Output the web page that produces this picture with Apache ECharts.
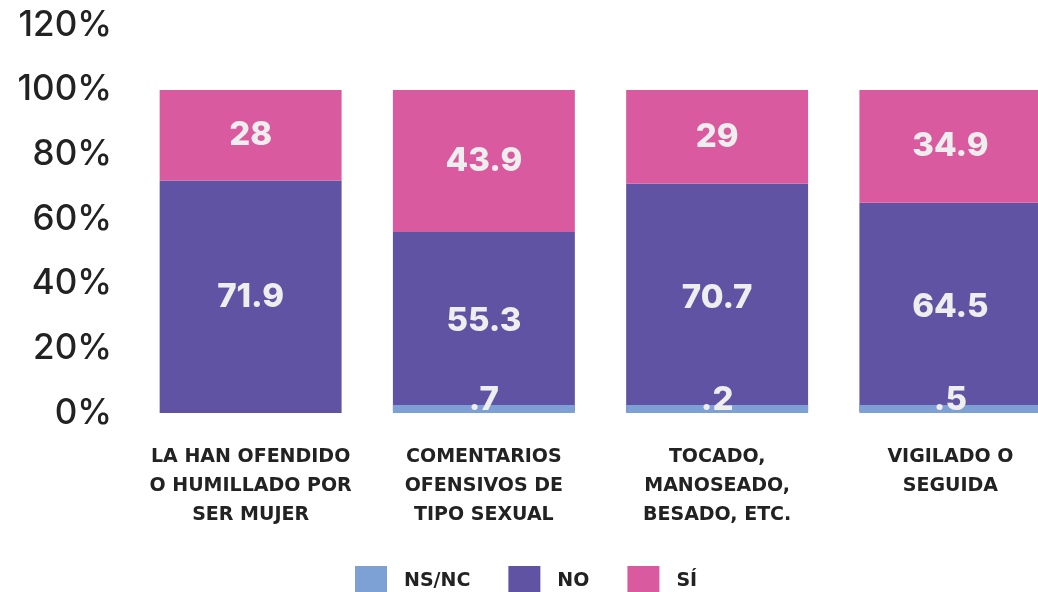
<!DOCTYPE html>
<html>
<head>
<meta charset="utf-8">
<script src="https://cdn.jsdelivr.net/npm/echarts@6/dist/echarts.min.js"></script>
<style>html,body{margin:0;padding:0;background:#fff}#c{width:1038px;height:592px}</style>
</head>
<body>
<div id="c"></div>
<script>
const categories = ['LA HAN OFENDIDO\nO HUMILLADO POR\nSER MUJER', 'COMENTARIOS\nOFENSIVOS DE\nTIPO SEXUAL', 'TOCADO,\nMANOSEADO,\nBESADO, ETC.', 'VIGILADO O\nSEGUIDA'];
const seriesNames = ['NS/NC', 'NO', 'SÍ'];
const nsnc = [null, 0.7, 0.2, 0.5];
const no = [71.9, 55.3, 70.7, 64.5];
const si = [28, 43.9, 29, 34.9];
const yTicks = [0, 20, 40, 60, 80, 100, 120];

const colors = ['#7ea1d5', '#6153a3', '#da5aa0'];
const valueFont = {color: '#eeeeee', fontFamily: 'Inter', fontWeight: 800, fontSize: 33};
const catFont = {fontFamily: 'DejaVu Sans', fontWeight: 'bold', fontSize: 19, color: '#222'};
const fmt = p => {
  if (p.value == null) return '';
  const s = String(p.value);
  return s.startsWith('0.') ? s.slice(1) : s;
};

const chart = echarts.init(document.getElementById('c'), null, {renderer: 'canvas'});
chart.setOption({
  animation: false,
  color: colors,
  grid: {left: 134, width: 933, top: 25, bottom: 179, containLabel: false, outerBoundsMode: 'none'},
  legend: {
    left: 350, top: 561,
    itemWidth: 32, itemHeight: 31, itemGap: 38,
    icon: 'rect',
    textStyle: {...catFont, fontSize: 19, padding: [0, 0, 0, 12]},
    data: seriesNames
  },
  xAxis: {
    type: 'category', data: categories,
    axisLine: {show: false}, axisTick: {show: false},
    axisLabel: {interval: 0, margin: 30, ...catFont, lineHeight: 29, align: 'center'}
  },
  yAxis: {
    type: 'value', min: 0, max: 120, interval: 20,
    splitLine: {show: false}, axisLine: {show: false}, axisTick: {show: false},
    axisLabel: {margin: 22, fontFamily: 'Inter', fontWeight: 500, fontSize: 35, color: '#222', formatter: v => yTicks.includes(v) ? v + '%' : ''}
  },
  series: [
    {name: seriesNames[0], type: 'bar', stack: 't', data: nsnc, barWidth: '78%', barMinHeight: 8, z: 3,
      label: {show: true, position: 'top', distance: -12, formatter: fmt, ...valueFont}},
    {name: seriesNames[1], type: 'bar', stack: 't', data: no, barWidth: '78%',
      label: {show: true, position: 'inside', formatter: fmt, ...valueFont}},
    {name: seriesNames[2], type: 'bar', stack: 't', data: si, barWidth: '78%',
      label: {show: true, position: 'inside', formatter: fmt, ...valueFont}}
  ]
});
</script>
</body>
</html>
